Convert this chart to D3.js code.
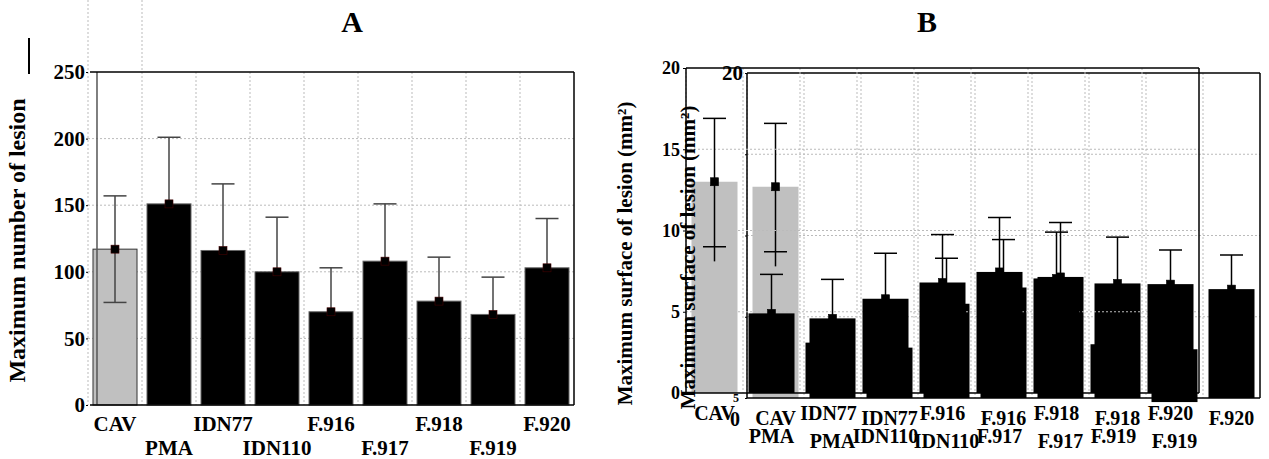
<!DOCTYPE html>
<html>
<head>
<meta charset="utf-8">
<script src="https://cdn.jsdelivr.net/npm/d3@7"></script>
<style>
  body { margin: 0; background: #fff; }
  svg { display: block; font-family: "Liberation Serif", "Times New Roman", serif; font-weight: bold; }
</style>
</head>
<body>
<svg id="chart" width="1269" height="459"></svg>
<script>
"use strict";

var categories = ["CAV", "PMA", "IDN77", "IDN110", "F.916", "F.917", "F.918", "F.919", "F.920"];

// A: maximum number of lesion
var lesionMean = [117, 151, 116, 100, 70, 108, 78, 68, 103];
var lesionHigh = [157, 201, 166, 141, 103, 151, 111, 96, 140];
var lesionLow  = [77, 101, 66, 59, 37, 65, 45, 40, 66];
var lesionTicks = [0, 50, 100, 150, 200, 250];

// B: maximum surface of lesion (mm²), drawn twice (second copy slightly shifted)
var surfaceMean = [13.0, 4.9, 3.1, 5.8, 6.8, 7.45, 7.05, 3.0, 6.7];
var surfaceHigh = [16.9, 7.3, 4.4, 8.6, 9.75, 10.8, 9.9, 4.6, 8.8];
var surfaceLow  = [9.0, 2.5, 1.8, 3.0, 3.85, 4.1, 4.2, 1.4, 4.6];
var surfaceStemLow = [8.1, 2.5, 1.8, 3.0, 3.85, 4.1, 4.2, 1.4, 4.6];
var surfaceBaseCopy = [0, 0, 0, 0, 0, 0, 0, -0.25, 0];
var surfaceTicks = [0, 5, 10, 15, 20];

var svg = d3.select("#chart");
var GRID = "#bbb";

function isGrey(i) { return i == 0; }

/**
 * Grille pointillée d'un panneau.
 */
function grid(g, x, y, ticks, left, right, top, bottom, tallCols) {
  var step = x.step();
  g.selectAll(null).data(ticks.slice(1, -1)).enter().append("line")
    .attr("x1", left).attr("x2", right)
    .attr("y1", function (d) { return y(d); }).attr("y2", function (d) { return y(d); })
    .attr("stroke", GRID).attr("stroke-dasharray", "2,2");
  g.selectAll(null).data(d3.range(0, categories.length)).enter().append("line")
    .attr("x1", function (d) { return left + d * step; })
    .attr("x2", function (d) { return left + d * step; })
    .attr("y1", function (d) { return d < tallCols ? 0 : top; })
    .attr("y2", bottom)
    .attr("stroke", GRID).attr("stroke-dasharray", "2,2");
}

/**
 * Barres : filter choisit grises ou noires, pour pouvoir glisser les moustaches entre les deux.
 */
function bars(g, x, y, mean, base, filter, stroke) {
  var idx = d3.range(mean.length).filter(filter);
  g.selectAll(null).data(idx).enter().append("rect")
    .attr("x", function (i) { return x(categories[i]); })
    .attr("width", x.bandwidth())
    .attr("y", function (i) { return y(mean[i]); })
    .attr("height", function (i) { return y(base[i]) - y(mean[i]); })
    .attr("fill", function (i) { return isGrey(i) ? "#c0c0c0" : "#000"; })
    .attr("stroke", function (i) { return stroke ? (isGrey(i) ? "#333" : "#666") : null; });
}

function whiskers(g, x, y, mean, high, low, stemLow, capW, color) {
  var cx = function (d, i) { return x(categories[i]) + x.bandwidth() / 2; };
  g.selectAll(null).data(mean).enter().append("line")
    .attr("x1", cx).attr("x2", cx)
    .attr("y1", function (d, i) { return y(stemLow[i]); })
    .attr("y2", function (d, i) { return y(high[i]); })
    .attr("stroke", color).attr("stroke-width", 1.5);
  [high, low].forEach(function (arr) {
    g.selectAll(null).data(mean).enter().append("line")
      .attr("x1", function (d, i) { return cx(d, i) - capW / 2; })
      .attr("x2", function (d, i) { return cx(d, i) + capW / 2; })
      .attr("y1", function (d, i) { return y(arr[i]); })
      .attr("y2", function (d, i) { return y(arr[i]); })
      .attr("stroke", color).attr("stroke-width", 1.5);
  });
}

function markers(g, x, y, mean, stroke) {
  g.selectAll(null).data(mean).enter().append("rect")
    .attr("x", function (d, i) { return x(categories[i]) + x.bandwidth() / 2 - 4; })
    .attr("y", function (d) { return y(d) - 4; })
    .attr("width", 8).attr("height", 8)
    .attr("fill", "#000").attr("stroke", stroke).attr("stroke-width", 0.6);
}

function box(g, left, right, top, bottom, sides) {
  var p = { t: [left, top, right, top], r: [right, top, right, bottom],
            b: [left, bottom, right, bottom], l: [left, top, left, bottom] };
  sides.split("").forEach(function (s) {
    g.append("line").attr("x1", p[s][0]).attr("y1", p[s][1]).attr("x2", p[s][2]).attr("y2", p[s][3])
      .attr("stroke", "#000").attr("stroke-width", 1.5);
  });
}

function categoryLabels(g, x, bottom, size, row1, row2) {
  var gx = g.append("g").attr("transform", "translate(0," + bottom + ")")
    .call(d3.axisBottom(x).tickSize(0).tickPadding(0));
  gx.select(".domain").remove();
  gx.attr("font-family", null).attr("font-size", size);
  gx.selectAll("text").attr("dy", 0).attr("y", function (d, i) { return i % 2 ? row2 : row1; });
}

function yTitle(g, text, xPos, yPos, size) {
  g.append("text")
    .attr("transform", "translate(" + xPos + "," + yPos + ") rotate(-90)")
    .attr("text-anchor", "middle").attr("font-size", size)
    .text(text);
}

// ---------- Panneau A ----------
(function () {
  var left = 88, right = 574, top = 72, bottom = 405;
  var g = svg.append("g");
  var x = d3.scaleBand().domain(categories).range([left, right]).paddingInner(0.185).paddingOuter(0.0925);
  var y = d3.scaleLinear().domain([0, 250]).range([bottom, top]);
  var zero = lesionMean.map(function () { return 0; });

  grid(g, x, y, lesionTicks, left, right, top, bottom, 2);

  bars(g, x, y, lesionMean, zero, isGrey, true);
  whiskers(g, x, y, lesionMean, lesionHigh, lesionLow, lesionLow, 23, "#444");
  bars(g, x, y, lesionMean, zero, function (i) { return !isGrey(i); }, true);
  markers(g, x, y, lesionMean, "#400");

  // trait vertical gris à gauche
  g.append("line").attr("x1", x("CAV") + 4).attr("x2", x("CAV") + 4)
    .attr("y1", top).attr("y2", bottom).attr("stroke", "#555").attr("stroke-width", 1.5);
  box(g, left + 2, right, top, bottom, "trb");

  var ga = g.append("g").attr("transform", "translate(" + left + ",0)")
    .call(d3.axisLeft(y).tickValues(lesionTicks).tickSize(2).tickPadding(1));
  ga.select(".domain").remove();
  ga.attr("font-family", null).attr("font-size", 21);

  categoryLabels(g, x, bottom, 21, 26, 50);
  yTitle(g, "Maximum number of lesion", left - 63, (top + bottom) / 2 + 2, 24);

  g.append("text").attr("x", 352).attr("y", 32).attr("text-anchor", "middle")
    .attr("font-size", 30).text("A");
  g.append("line").attr("x1", 29).attr("x2", 29).attr("y1", 38).attr("y2", 74)
    .attr("stroke", "#000").attr("stroke-width", 2);
})();

// ---------- Panneau B ----------
function drawSurface(g, left, top, opts) {
  var right = left + 513, bottom = top + 325;
  var x = d3.scaleBand().domain(categories).range([left, right]).paddingInner(0.193).paddingOuter(0.0965);
  var y = d3.scaleLinear().domain([0, 20]).range([bottom, top]);

  grid(g, x, y, surfaceTicks, left, right, top, bottom, 0);

  bars(g, x, y, surfaceMean, opts.base, isGrey, false);
  whiskers(g, x, y, surfaceMean, surfaceHigh, surfaceLow, surfaceStemLow, 23, "#000");
  bars(g, x, y, surfaceMean, opts.base, function (i) { return !isGrey(i); }, false);
  markers(g, x, y, surfaceMean, "#000");
  box(g, left, right, top, bottom, "tlrb");

  var ga = g.append("g").attr("transform", "translate(" + left + ",0)")
    .call(d3.axisLeft(y).tickValues(surfaceTicks).tickSize(opts.tick).tickPadding(opts.tick)
      .tickFormat(opts.fmt));
  ga.select(".domain").remove();
  ga.attr("font-family", null).attr("font-size", opts.tickFont);

  categoryLabels(g, x, bottom, 20, 27, 50);
  return { x: x, y: y, left: left, top: top, bottom: bottom };
}

var gCopy = svg.append("g");
var copy = drawSurface(gCopy, 747, 73, {
  base: surfaceBaseCopy, tick: 2, tickFont: 21,
  fmt: function (d) { return d == 20 ? "20" : ""; }
});
// étiquettes déplacées de la copie
gCopy.append("text").attr("x", copy.left - 11).attr("y", copy.y(0) + 4).attr("font-size", 12)
  .attr("text-anchor", "middle").text("5");
gCopy.append("text").attr("x", copy.left - 12).attr("y", copy.y(0) + 28).attr("font-size", 20)
  .attr("text-anchor", "middle").text("0");

var gMain = svg.append("g");
var main = drawSurface(gMain, 686, 68, {
  base: surfaceMean.map(function () { return 0; }), tick: 3, tickFont: 18,
  fmt: d3.format("d")
});
yTitle(gMain, "Maximum surface of lesion (mm²)", main.left - 54, (main.top + main.bottom) / 2 + 23, 21);
yTitle(svg, "Maximum surface of lesion (mm²)", copy.left - 52, (copy.top + copy.bottom) / 2 + 22, 21);

svg.append("text").attr("x", 927).attr("y", 32).attr("text-anchor", "middle")
  .attr("font-size", 30).text("B");
</script>
</body>
</html>
